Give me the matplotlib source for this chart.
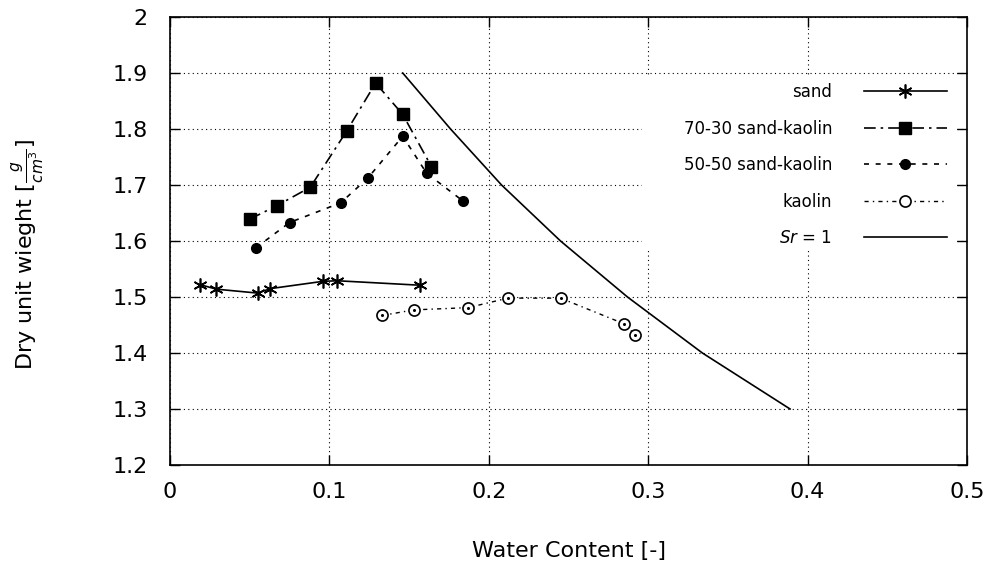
import numpy as np
import matplotlib
matplotlib.use("Agg")
import matplotlib.pyplot as plt
from matplotlib.patches import Rectangle

# data
sand_w = [0.019, 0.029, 0.055, 0.063, 0.096, 0.105, 0.157]
sand_g = [1.522, 1.514, 1.507, 1.515, 1.528, 1.529, 1.521]

sk7030_w = [0.050, 0.067, 0.088, 0.111, 0.129, 0.146, 0.164]
sk7030_g = [1.639, 1.663, 1.696, 1.797, 1.882, 1.826, 1.733]

sk5050_w = [0.054, 0.075, 0.107, 0.124, 0.146, 0.161, 0.184]
sk5050_g = [1.588, 1.633, 1.668, 1.712, 1.787, 1.721, 1.671]

kaolin_w = [0.133, 0.153, 0.187, 0.212, 0.245, 0.285, 0.292]
kaolin_g = [1.467, 1.477, 1.481, 1.498, 1.498, 1.452, 1.432]

sr1_w = [0.146, 0.176, 0.208, 0.245, 0.287, 0.334, 0.389]
sr1_g = [1.9, 1.8, 1.7, 1.6, 1.5, 1.4, 1.3]

plt.rcParams['font.family'] = ['DejaVu Sans']
plt.rcParams['mathtext.fontset'] = 'dejavusans'
fs = 12

fig = plt.figure(figsize=(9.91, 5.69), dpi=100)
ax = fig.add_axes([170 / 991, 1 - 465 / 569, (967 - 170) / 991, (465 - 17) / 569])

ax.plot(sand_w, sand_g, color='black', lw=1.2, ls='-',
        marker=(6, 2, 0), ms=10, mew=1.2, label='sand')
ax.plot(sk7030_w, sk7030_g, color='black', lw=1.2, ls=(0, (7, 3, 1.5, 3)),
        marker='s', ms=8, label='70-30 sand-kaolin')
ax.plot(sk5050_w, sk5050_g, color='black', lw=1.2, ls=(0, (3, 4)),
        marker='o', ms=7, label='50-50 sand-kaolin')
ax.plot(kaolin_w, kaolin_g, color='black', lw=1.0, ls=(0, (3, 3, 1, 3)),
        marker='o', ms=8, mfc='white', mew=1.2, label='kaolin')
ax.plot(kaolin_w, kaolin_g, ls='none', marker='o', ms=1.2, color='black')
ax.plot(sr1_w, sr1_g, color='black', lw=1.2, ls='-', label='$Sr$ = 1')

ax.set_xlim(0, 0.5)
ax.set_ylim(1.2, 2.0)
ax.set_xticks([0, 0.1, 0.2, 0.3, 0.4, 0.5])
ax.set_xticklabels(['0', '0.1', '0.2', '0.3', '0.4', '0.5'])
ax.set_yticks([1.2, 1.3, 1.4, 1.5, 1.6, 1.7, 1.8, 1.9, 2.0])
ax.set_yticklabels(['1.2', '1.3', '1.4', '1.5', '1.6', '1.7', '1.8', '1.9', '2'])
ax.tick_params(direction='in', top=True, right=True, length=7, width=1,
               labelsize=16)
ax.tick_params(axis='x', pad=12)
ax.tick_params(axis='y', pad=16)
ax.grid(True, color='black', lw=0.8, ls=(0, (1, 3)))
for sp in ax.spines.values():
    sp.set_linewidth(1.2)

# opaque key area hides the grid behind the legend
ax.add_patch(Rectangle((0.592, 0.4844), 0.985 - 0.592, 0.868 - 0.4844,
                       transform=ax.transAxes, facecolor='white',
                       edgecolor='none', zorder=1.8))

ax.set_xlabel('Water Content [-]', fontsize=16, labelpad=28)
ax.set_ylabel(r'Dry unit wieght [$\frac{g}{cm^3}$]', fontsize=16)
ax.yaxis.set_label_coords(-0.154, 0.47)

leg = ax.legend(loc='upper right', bbox_to_anchor=(0.975, 0.852), markerfirst=False,
                fontsize=fs, frameon=False, handlelength=5.0, handletextpad=1.9,
                labelspacing=1.11, borderpad=0, borderaxespad=0)

fig.savefig('out.png', dpi=100)
